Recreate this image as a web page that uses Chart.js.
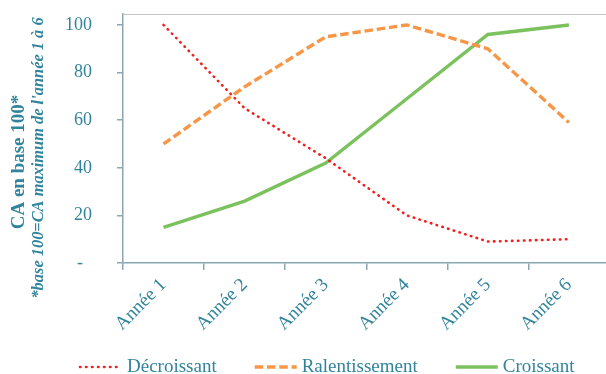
<!DOCTYPE html>
<html>
<head>
<meta charset="utf-8">
<script src="https://cdn.jsdelivr.net/npm/chart.js@4.4.1/dist/chart.umd.min.js"></script>
<style>
  html, body { margin: 0; padding: 0; background: #ffffff; overflow: hidden; }
  #wrap { width: 606px; height: 374px; overflow: hidden; }
  #chart { display: block; }
</style>
</head>
<body>
<div id="wrap"><canvas id="chart" width="610" height="374"></canvas></div>
<script>
// Categories and series (CA en base 100)
const years = ['Année 1', 'Année 2', 'Année 3', 'Année 4', 'Année 5', 'Année 6'];
const decroissant = [100, 65, 44, 20, 9, 10];
const ralentissement = [50, 74, 95, 100, 90, 59];
const croissant = [15, 26, 42, 69, 96, 100];
const yTickValues = [0, 20, 40, 60, 80, 100];
const seriesNames = ['Décroissant', 'Ralentissement', 'Croissant'];
const yTitle = 'CA en base 100*';
const yNote = "*base 100=CA maximum de l'année 1 à 6";

const TEAL = '#31849B';
const AXIS = '#8AA6B3';
const SERIF = '"Liberation Serif", "Times New Roman", serif';

// Rotated axis title (two lines with different styles) and the bottom legend
const decorations = {
  id: 'decorations',
  afterDraw(chart) {
    const ctx = chart.ctx;
    const area = chart.chartArea;

    // light frame line along the top of the plot
    ctx.save();
    ctx.strokeStyle = '#C4C4C4';
    ctx.lineWidth = 1;
    ctx.beginPath();
    ctx.moveTo(area.left, Math.round(area.top) + 0.5);
    ctx.lineTo(chart.width, Math.round(area.top) + 0.5);
    ctx.stroke();
    ctx.restore();

    // y-axis titles
    ctx.save();
    ctx.fillStyle = TEAL;
    ctx.textAlign = 'center';
    ctx.textBaseline = 'middle';
    ctx.translate(19, 162);
    ctx.rotate(-Math.PI / 2);
    ctx.font = 'bold 19px ' + SERIF;
    ctx.fillText(yTitle, 0, 0);
    ctx.restore();

    ctx.save();
    ctx.fillStyle = TEAL;
    ctx.textAlign = 'center';
    ctx.textBaseline = 'middle';
    ctx.translate(39, 158);
    ctx.rotate(-Math.PI / 2);
    ctx.font = 'italic bold 16.4px ' + SERIF;
    ctx.fillText(yNote, 0, 0);
    ctx.restore();

    // legend
    const sampleW = 42, gap = 5, itemGap = 38, y = 367;
    ctx.save();
    ctx.font = '19px ' + SERIF;
    ctx.textBaseline = 'middle';
    ctx.textAlign = 'left';
    let x = 80;
    chart.data.datasets.forEach((ds) => {
      ctx.save();
      ctx.strokeStyle = ds.borderColor;
      ctx.lineWidth = ds.borderWidth;
      ctx.lineCap = ds.borderCapStyle || 'butt';
      ctx.setLineDash(ds.borderDash || []);
      ctx.beginPath();
      ctx.moveTo(x, y);
      ctx.lineTo(x + sampleW, y);
      ctx.stroke();
      ctx.restore();
      x += sampleW + gap;
      ctx.fillStyle = TEAL;
      ctx.fillText(ds.label, x, y);
      x += ctx.measureText(ds.label).width + itemGap;
    });
    ctx.restore();
  }
};

new Chart(document.getElementById('chart'), {
  type: 'line',
  data: {
    labels: years,
    datasets: [
      {
        label: seriesNames[0],
        data: decroissant,
        borderColor: '#F21F1F',
        borderWidth: 2.6,
        borderDash: [0.5, 5.5],
        borderCapStyle: 'round',
        pointRadius: 0,
        tension: 0
      },
      {
        label: seriesNames[1],
        data: ralentissement,
        borderColor: '#F79646',
        borderWidth: 3.4,
        borderDash: [8.5, 3.8],
        borderCapStyle: 'butt',
        pointRadius: 0,
        tension: 0
      },
      {
        label: seriesNames[2],
        data: croissant,
        borderColor: '#7BC25E',
        borderWidth: 3.4,
        borderCapStyle: 'butt',
        pointRadius: 0,
        tension: 0
      }
    ]
  },
  options: {
    responsive: false,
    animation: false,
    devicePixelRatio: 1,
    layout: { padding: { top: 14, right: 0.5, bottom: 0, left: 0 } },
    plugins: {
      legend: { display: false },
      tooltip: { enabled: false },
      title: { display: false }
    },
    scales: {
      x: {
        offset: true,
        grid: { offset: true, drawOnChartArea: false, tickLength: 7, color: AXIS, lineWidth: 1.5 },
        border: { color: AXIS, width: 1.5 },
        ticks: {
          minRotation: 45,
          maxRotation: 45,
          padding: 4,
          color: TEAL,
          font: { family: SERIF, size: 19 }
        },
        afterFit(scale) {
          scale.height = 111;
          scale.paddingLeft = 0;
          scale.paddingRight = 0;
        }
      },
      y: {
        min: 0,
        max: 104.6,
        afterBuildTicks(scale) { scale.ticks = yTickValues.map(v => ({ value: v })); },
        grid: { drawOnChartArea: false, tickLength: 6, color: AXIS, lineWidth: 1.5 },
        border: { color: AXIS, width: 1.5 },
        ticks: {
          padding: 25,
          color: TEAL,
          font: { family: SERIF, size: 18 },
          callback: (v) => (v === 0 ? '-  ' : String(v))
        },
        afterFit(scale) {
          scale.width = 123;
          scale.paddingTop = 0;
          scale.paddingBottom = 0;
        }
      }
    }
  },
  plugins: [decorations]
});
</script>
</body>
</html>
